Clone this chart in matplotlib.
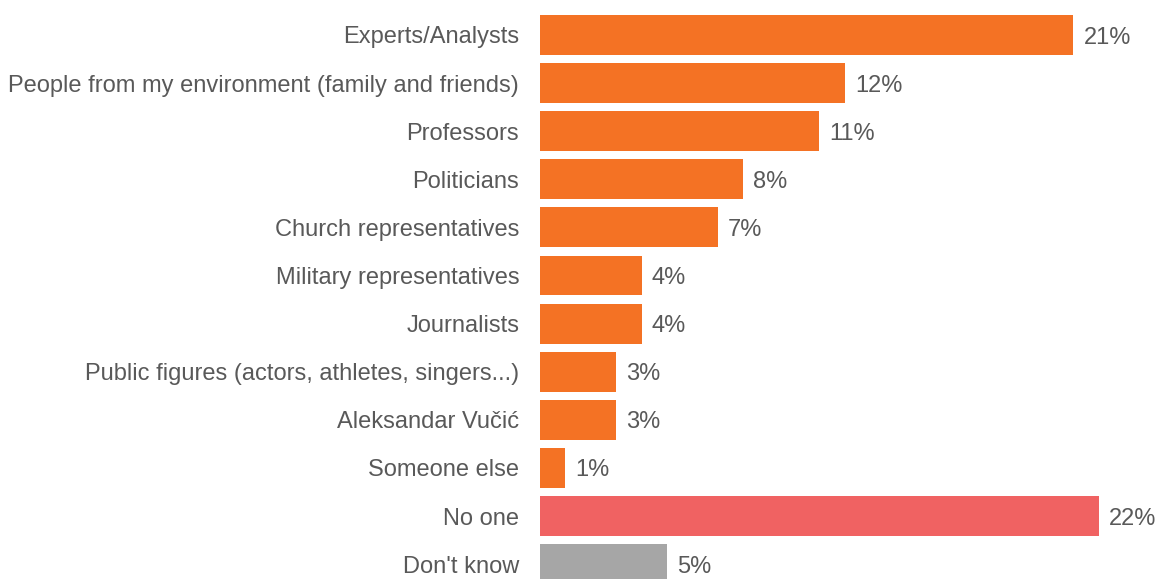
import matplotlib.pyplot as plt

categories = [
    "Experts/Analysts",
    "People from my environment (family and friends)",
    "Professors",
    "Politicians",
    "Church representatives",
    "Military representatives",
    "Journalists",
    "Public figures (actors, athletes, singers...)",
    "Aleksandar Vučić",
    "Someone else",
    "No one",
    "Don't know",
]
shares = [21, 12, 11, 8, 7, 4, 4, 3, 3, 1, 22, 5]

ORANGE = "#F47224"
RED = "#F06262"
GREY = "#A6A6A6"
TEXT = "#595959"
colors = [ORANGE] * 10 + [RED, GREY]

plt.rcParams["font.family"] = ["Liberation Sans", "DejaVu Sans"]

fig = plt.figure(figsize=(11.62, 5.79), dpi=100)
ax = fig.add_axes([540 / 1162, 0, 622 / 1162, 1])

pos = list(range(len(categories)))
ax.barh(pos, shares, height=0.83, color=colors)

row = 48.1
ax.set_ylim((579 - 35) / row, -35 / row)
ax.set_xlim(0, 622 / 25.4)

for y, v in zip(pos, shares):
    ax.text(v + 0.4, y, f"{v}%", va="center_baseline", ha="left",
            fontsize=17, color=TEXT)

ax.set_yticks(pos)
ax.set_yticklabels(categories, fontsize=17, color=TEXT, va="center_baseline")
ax.tick_params(axis="y", length=0, pad=15)
ax.set_xticks([])
for s in ax.spines.values():
    s.set_visible(False)

fig.savefig("out.png", dpi=100)
